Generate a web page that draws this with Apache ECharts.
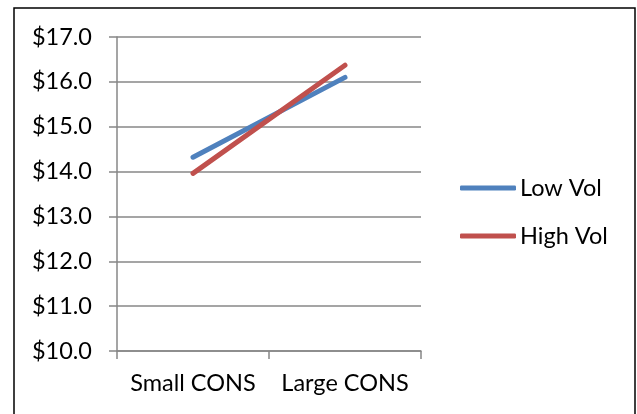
<!DOCTYPE html>
<html>
<head>
<meta charset="utf-8">
<script src="https://cdn.jsdelivr.net/npm/echarts@6/dist/echarts.min.js"></script>
<style>
  html, body { margin: 0; padding: 0; background: #fff; }
  #chart { width: 637px; height: 414px; }
</style>
</head>
<body>
<div id="chart"></div>
<script>
// Categories and series values
const categories = ['Small CONS', 'Large CONS'];
const lowVol = [14.32, 16.10];
const highVol = [13.96, 16.37];
const seriesNames = ['Low Vol', 'High Vol'];

// Value axis range
const yMin = 10;
const yMax = 17;
const yStep = 1;

const FONT = 'Lato';
const FONT_SIZE = 23.5;
const GRID_COLOR = '#878787';

const chart = echarts.init(document.getElementById('chart'), null, { renderer: 'canvas' });

chart.setOption({
  animation: false,
  backgroundColor: '#fff',
  textStyle: { fontFamily: FONT },
  graphic: [{
    type: 'rect',
    shape: { x: 14, y: 8, width: 621, height: 420 },
    style: { fill: 'none', stroke: '#000', lineWidth: 1.5 },
    silent: true
  }],
  grid: { left: 117, right: 216, top: 37, bottom: 63, containLabel: false },
  legend: {
    orient: 'vertical',
    left: 460,
    top: 176,
    padding: 0,
    itemWidth: 56,
    itemHeight: 5,
    itemGap: 24,
    icon: 'roundRect',
    textStyle: { fontFamily: FONT, fontSize: FONT_SIZE, color: '#000', lineHeight: 24, padding: [0, 0, 0, -1] },
    data: seriesNames
  },
  xAxis: {
    type: 'category',
    data: categories,
    boundaryGap: true,
    axisLine: { lineStyle: { color: GRID_COLOR, width: 1.5 } },
    axisTick: { show: true, interval: 0, length: 8, alignWithLabel: false, lineStyle: { color: GRID_COLOR, width: 1.5 } },
    axisLabel: { interval: 0, color: '#000', fontSize: FONT_SIZE, fontFamily: FONT, margin: 20 }
  },
  yAxis: {
    type: 'value',
    min: yMin,
    max: yMax,
    interval: yStep,
    axisLine: { show: true, lineStyle: { color: GRID_COLOR, width: 1.5 } },
    axisTick: { show: true, length: 8, lineStyle: { color: GRID_COLOR, width: 1.5 } },
    axisLabel: {
      color: '#000', fontSize: FONT_SIZE, fontFamily: FONT, margin: 25,
      formatter: v => '$' + v.toFixed(1)
    },
    splitLine: { show: true, lineStyle: { color: GRID_COLOR, width: 1.5 } }
  },
  series: [
    {
      name: seriesNames[0],
      type: 'line',
      data: lowVol,
      symbol: 'none',
      color: '#4F81BD',
      lineStyle: { width: 5, color: '#4F81BD', cap: 'round' }
    },
    {
      name: seriesNames[1],
      type: 'line',
      data: highVol,
      symbol: 'none',
      color: '#C0504D',
      lineStyle: { width: 5, color: '#C0504D', cap: 'round' }
    }
  ]
});
</script>
</body>
</html>
